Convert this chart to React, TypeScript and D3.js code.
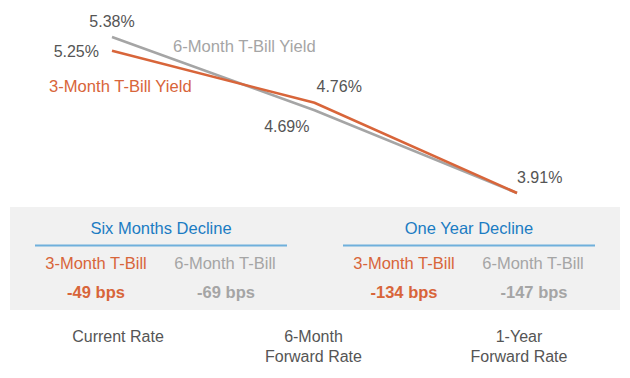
import React from "react";
import * as d3 from "d3";

const categories = ["Current Rate", "6-Month|Forward Rate", "1-Year|Forward Rate"];
const threeMonth = [5.25, 4.76, 3.91];
const sixMonth = [5.38, 4.69, 3.91];
const sections = ["Six Months Decline", "One Year Decline"];
const threeMonthDecline = [-49, -134];
const sixMonthDecline = [-69, -147];
const seriesNames = ["3-Month T-Bill Yield", "6-Month T-Bill Yield"];
const colNames = ["3-Month T-Bill", "6-Month T-Bill"];

const ORANGE = "#d8653a";
const GRAY = "#a5a5a5";
const TEXT = "#555555";
const BLUE = "#1b7cc3";
const RULE = "#6fb0dc";
const FONT = "'Liberation Sans', Arial, Helvetica, sans-serif";

export default function App() {
  const W = 630, H = 378;
  const x = d3.scalePoint<string>().domain(categories).range([112, 517]);
  const y = d3.scaleLinear().domain([3.91, 5.38]).range([193, 37]);
  const line = d3.line<number>().x((_, i) => x(categories[i])!).y((d) => y(d));

  const sx = d3.scalePoint<string>().domain(sections).range([161, 469]);

  // value label placements: [dx, dy, anchor]
  const lab3: [number, number, string][] = [[-13, 6, "end"], [2, -11, "start"], [0, 0, "none"]];
  const lab6: [number, number, string][] = [[0, -10, "middle"], [-5, 22, "end"], [0, -10, "start"]];
  const catDx = [6, -1, 2];

  return (
    <svg width={W} height={H} style={{ position: "absolute", left: 0, top: 0, fontFamily: FONT }}>
      <rect x={0} y={0} width={W} height={H} fill="#fff" />
      <path d={line(sixMonth) || ""} fill="none" stroke={GRAY} strokeWidth={2.6} />
      <path d={line(threeMonth) || ""} fill="none" stroke={ORANGE} strokeWidth={2.6} />

      {threeMonth.map((v, i) =>
        lab3[i][2] === "none" ? null : (
          <text key={"t3" + i} x={x(categories[i])! + lab3[i][0]} y={y(v) + lab3[i][1]} textAnchor={lab3[i][2] as any} fontSize={16} fill={TEXT}>
            {v.toFixed(2)}%
          </text>
        )
      )}
      {sixMonth.map((v, i) => (
        <text key={"t6" + i} x={x(categories[i])! + lab6[i][0]} y={y(v) + lab6[i][1]} textAnchor={lab6[i][2] as any} fontSize={16} fill={TEXT}>
          {v.toFixed(2)}%
        </text>
      ))}

      <text x={49} y={92} fontSize={16.6} fill={ORANGE}>{seriesNames[0]}</text>
      <text x={173} y={52} fontSize={16.6} fill={GRAY}>{seriesNames[1]}</text>

      <rect x={10} y={207} width={610} height={103} fill="#f1f1f1" />
      {sections.map((s, i) => {
        const cx = sx(s)!;
        return (
          <g key={s}>
            <text x={cx} y={234} textAnchor="middle" fontSize={16.5} fill={BLUE}>{s}</text>
            <line x1={cx - 126} x2={cx + 126} y1={245.5} y2={245.5} stroke={RULE} strokeWidth={2} />
            <text x={cx - 65} y={269} textAnchor="middle" fontSize={16.5} fill={ORANGE}>{colNames[0]}</text>
            <text x={cx + 64} y={269} textAnchor="middle" fontSize={16.5} fill={GRAY}>{colNames[1]}</text>
            <text x={cx - 65} y={298} textAnchor="middle" fontSize={16.5} fontWeight="bold" fill={ORANGE}>{threeMonthDecline[i]} bps</text>
            <text x={cx + 65} y={298} textAnchor="middle" fontSize={16.5} fontWeight="bold" fill={GRAY}>{sixMonthDecline[i]} bps</text>
          </g>
        );
      })}

      {categories.map((c, i) => (
        <text key={c} x={x(c)! + catDx[i]} y={342} textAnchor="middle" fontSize={16} fill={TEXT}>
          {c.split("|").map((ln, j) => (
            <tspan key={j} x={x(c)! + catDx[i]} dy={j === 0 ? 0 : 20}>{ln}</tspan>
          ))}
        </text>
      ))}
    </svg>
  );
}
